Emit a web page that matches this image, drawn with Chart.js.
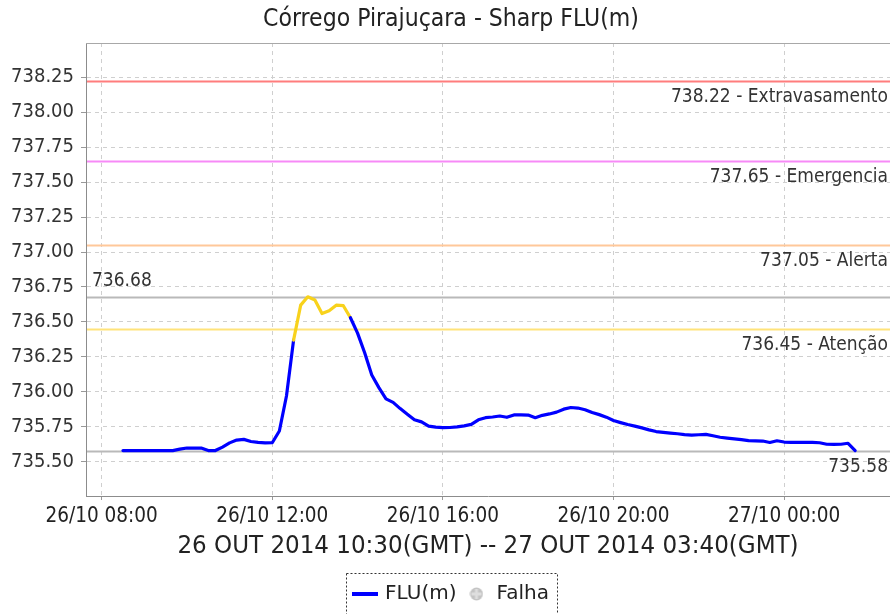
<!DOCTYPE html>
<html>
<head>
<meta charset="utf-8">
<script src="https://cdn.jsdelivr.net/npm/chart.js@4.4.1/dist/chart.umd.min.js"></script>
<style>
  html, body { margin: 0; padding: 0; background: #ffffff; }
  #box { width: 890px; height: 614px; }
</style>
</head>
<body>
<div id="box"><canvas id="chart" width="890" height="614"></canvas></div>
<script>
// ---- chart text ----
const chartTitle = 'Córrego Pirajuçara - Sharp FLU(m)';
const periodLabel = '26 OUT 2014 10:30(GMT) -- 27 OUT 2014 03:40(GMT)';
const seriesName = 'FLU(m)';
const failName = 'Falha';

// ---- readings (local time, 10-minute samples) ----
const times = [
  '08:30','08:40','08:50',
  '09:00','09:10','09:20','09:30','09:40','09:50',
  '10:00','10:10','10:20','10:30','10:40','10:50',
  '11:00','11:10','11:20','11:30','11:40','11:50',
  '12:00','12:10','12:20','12:30','12:40','12:50',
  '13:00','13:10','13:20','13:30','13:40','13:50',
  '14:00','14:10','14:20','14:30','14:40','14:50',
  '15:00','15:10','15:20','15:30','15:40','15:50',
  '16:00','16:10','16:20','16:30','16:40','16:50',
  '17:00','17:10','17:20','17:30','17:40','17:50',
  '18:00','18:10','18:20','18:30','18:40','18:50',
  '19:00','19:10','19:20','19:30','19:40','19:50',
  '20:00','20:10','20:20','20:30','20:40','20:50',
  '21:00','21:10','21:20','21:30','21:40','21:50',
  '22:00','22:10','22:20','22:30','22:40','22:50',
  '23:00','23:10','23:20','23:30','23:40','23:50',
  '00:00','00:10','00:20','00:30','00:40','00:50',
  '01:00','01:10','01:20','01:30','01:40'
];
const levels = [
  735.58, 735.58, 735.58,
  735.58, 735.58, 735.58, 735.58, 735.58, 735.59,
  735.598, 735.598, 735.598, 735.58, 735.58, 735.605,
  735.635, 735.655, 735.66, 735.645, 735.638, 735.635,
  735.636, 735.72, 735.97, 736.37, 736.62, 736.68,
  736.657, 736.56, 736.58, 736.62, 736.616, 736.53,
  736.42, 736.28, 736.12, 736.03, 735.95, 735.925,
  735.88, 735.84, 735.80, 735.785, 735.755, 735.748,
  735.744, 735.745, 735.75, 735.757, 735.767, 735.80,
  735.815, 735.82, 735.827, 735.818, 735.835, 735.835,
  735.834, 735.815, 735.832, 735.842, 735.855, 735.876,
  735.888, 735.884, 735.872, 735.852, 735.837, 735.819,
  735.795, 735.78, 735.766, 735.755, 735.742, 735.728,
  735.716, 735.71, 735.705, 735.70, 735.694, 735.691,
  735.693, 735.696, 735.686, 735.675, 735.669, 735.664,
  735.658, 735.651, 735.649, 735.648, 735.638, 735.65,
  735.641, 735.639, 735.639, 735.639, 735.638, 735.636,
  735.625, 735.624, 735.625, 735.632, 735.58
];

// ---- reference levels ----
const alarmLevels = [738.22, 737.65, 737.05, 736.45];
const alarmNames = ['Extravasamento', 'Emergencia', 'Alerta', 'Atenção'];
const alarmColors = ['#ff7d7d', '#f78af7', '#ffc89a', '#ffe37a'];
const peakLevel = 736.68;
const lastLevel = 735.58;
const attentionLevel = 736.45;

// ---- axes (x in minutes from 26/10 00:00 local) ----
const xTickValues = [480, 720, 960, 1200, 1440];
const xTickLabels = ['26/10 08:00', '26/10 12:00', '26/10 16:00', '26/10 20:00', '27/10 00:00'];
const yTickValues = [735.5, 735.75, 736.0, 736.25, 736.5, 736.75, 737.0, 737.25, 737.5, 737.75, 738.0, 738.25];
const xRange = [458, 1589];
const yRange = [735.255, 738.495];

const BLUE = '#0000ff';
const GOLD = '#f8d21c';
const GREY_LINE = '#b9b9b9';
const FONT = "'DejaVu Sans', sans-serif";
const FONT_C = "'DejaVu Sans Condensed', 'DejaVu Sans', sans-serif";

function minutesFromStart(list) {
  let day = 0, prev = -1;
  return list.map(s => {
    const [h, m] = s.split(':').map(Number);
    const v = h * 60 + m;
    if (v < prev) day++;
    prev = v;
    return v + day * 1440;
  });
}
const xs = minutesFromStart(times);
const points = xs.map((x, i) => ({ x, y: levels[i] }));

// legend glyphs
function lineGlyph() {
  const c = document.createElement('canvas');
  c.width = 26; c.height = 4;
  const g = c.getContext('2d');
  g.fillStyle = BLUE; g.fillRect(0, 0, 26, 4);
  return c;
}
function dotGlyph() {
  const c = document.createElement('canvas');
  c.width = 14; c.height = 14;
  const g = c.getContext('2d');
  g.fillStyle = '#c4c4c4';
  g.beginPath(); g.arc(7, 7, 6.5, 0, Math.PI * 2); g.fill();
  g.fillStyle = '#dedede';
  g.fillRect(5.5, 2, 3, 10); g.fillRect(2, 5.5, 10, 3);
  return c;
}
const legendGlyphs = [lineGlyph(), dotGlyph()];

// reference lines and their captions
const levelLines = {
  id: 'levelLines',
  beforeDatasetsDraw(chart) {
    const { ctx, chartArea: a, scales: { y } } = chart;
    ctx.save();
    // top border of the plot
    ctx.strokeStyle = '#a8a8a8'; ctx.lineWidth = 1;
    ctx.beginPath(); ctx.moveTo(a.left, a.top + 0.5); ctx.lineTo(a.right, a.top + 0.5); ctx.stroke();
    const hline = (v, color) => {
      const py = Math.round(y.getPixelForValue(v)) + 0.5;
      ctx.strokeStyle = color; ctx.lineWidth = 2;
      ctx.beginPath(); ctx.moveTo(a.left + 1, py); ctx.lineTo(a.right, py); ctx.stroke();
      return py;
    };
    ctx.font = '19px ' + FONT_C;
    ctx.fillStyle = '#333';
    ctx.textBaseline = 'middle';
    alarmLevels.forEach((v, i) => {
      const py = hline(v, alarmColors[i]);
      ctx.textAlign = 'right';
      ctx.fillText(v.toFixed(2) + ' - ' + alarmNames[i], a.right - 2, py + 16);
    });
    let py = hline(peakLevel, GREY_LINE);
    ctx.textAlign = 'left';
    ctx.fillText(peakLevel.toFixed(2), a.left + 6, py - 16);
    py = hline(lastLevel, GREY_LINE);
    ctx.textAlign = 'right';
    ctx.fillText(lastLevel.toFixed(2), a.right - 2, py + 16);
    ctx.restore();
  }
};

// nudges and the dotted frame around the legend
const frameLegend = {
  id: 'frameLegend',
  afterLayout(chart) {
    chart.legend.left += 7; chart.legend.right += 7;
    chart.titleBlock.left += 6; chart.titleBlock.right += 6;
  },
  afterDraw(chart) {
    const lg = chart.legend;
    const hb = lg.legendHitBoxes;
    if (!hb || !hb.length) return;
    const last = hb[hb.length - 1];
    const left = Math.round(hb[0].left - 9) + 0.5;
    const right = Math.round(last.left + last.width + 8) + 0.5;
    const top = Math.round(lg.top - 1) + 0.5;
    const { ctx } = chart;
    ctx.save();
    ctx.strokeStyle = '#333'; ctx.lineWidth = 1; ctx.setLineDash([2, 2]);
    ctx.strokeRect(left, top, right - left, 60);
    ctx.restore();
  }
};

new Chart(document.getElementById('chart'), {
  type: 'line',
  data: {
    datasets: [{
      label: seriesName,
      data: points,
      borderColor: BLUE,
      backgroundColor: BLUE,
      borderWidth: 3.2,
      borderJoinStyle: 'round',
      borderCapStyle: 'round',
      pointRadius: 0,
      pointHitRadius: 0,
      tension: 0,
      segment: {
        borderColor: c => (c.p1.parsed.y >= attentionLevel ? GOLD : BLUE)
      }
    }, {
      label: failName,
      data: [],
      borderColor: '#c4c4c4',
      backgroundColor: '#c4c4c4',
      pointRadius: 0,
      showLine: false
    }]
  },
  options: {
    responsive: false,
    animation: false,
    devicePixelRatio: 1,
    layout: { padding: 0 },
    plugins: {
      title: {
        display: true,
        text: chartTitle,
        color: '#222',
        font: { family: FONT_C, size: 24.5, weight: 'normal' },
        padding: { top: 5, bottom: 8.6 }
      },
      legend: {
        display: true,
        position: 'bottom',
        labels: {
          usePointStyle: true,
          boxWidth: 20,
          padding: 10,
          color: '#222',
          font: { family: FONT, size: 20 },
          generateLabels: chart => chart.data.datasets.map((d, i) => ({
            text: d.label,
            fillStyle: d.backgroundColor,
            strokeStyle: d.borderColor,
            lineWidth: 0,
            pointStyle: legendGlyphs[i],
            hidden: false,
            datasetIndex: i,
            fontColor: '#222'
          }))
        }
      },
      tooltip: { enabled: false }
    },
    scales: {
      x: {
        type: 'linear',
        min: xRange[0],
        max: xRange[1],
        afterBuildTicks: s => { s.ticks = xTickValues.map(v => ({ value: v })); },
        afterFit: s => { s.height = 78; },
        ticks: {
          autoSkip: false,
          maxRotation: 0,
          padding: 4,
          color: '#222',
          font: { family: FONT_C, size: 20.5 },
          callback: v => xTickLabels[xTickValues.indexOf(v)]
        },
        grid: { color: '#cfcfcf', tickLength: 4, tickColor: '#999', lineWidth: 1 },
        border: { display: true, color: '#8c8c8c', width: 1, dash: [4, 4] },
        title: {
          display: true,
          text: periodLabel,
          color: '#222',
          font: { family: FONT_C, size: 25.6 },
          padding: { top: 0, bottom: 12 }
        }
      },
      y: {
        type: 'linear',
        min: yRange[0],
        max: yRange[1],
        afterBuildTicks: s => { s.ticks = yTickValues.map(v => ({ value: v })); },
        afterFit: s => { s.width = 86; },
        ticks: {
          padding: 7,
          color: '#333',
          font: { family: FONT_C, size: 20 },
          callback: v => Number(v).toFixed(2)
        },
        grid: { color: '#cfcfcf', tickLength: 5, tickColor: '#999', lineWidth: 1 },
        border: { display: true, color: '#8c8c8c', width: 1, dash: [4, 4] }
      }
    }
  },
  plugins: [levelLines, frameLegend]
});
</script>
</body>
</html>
